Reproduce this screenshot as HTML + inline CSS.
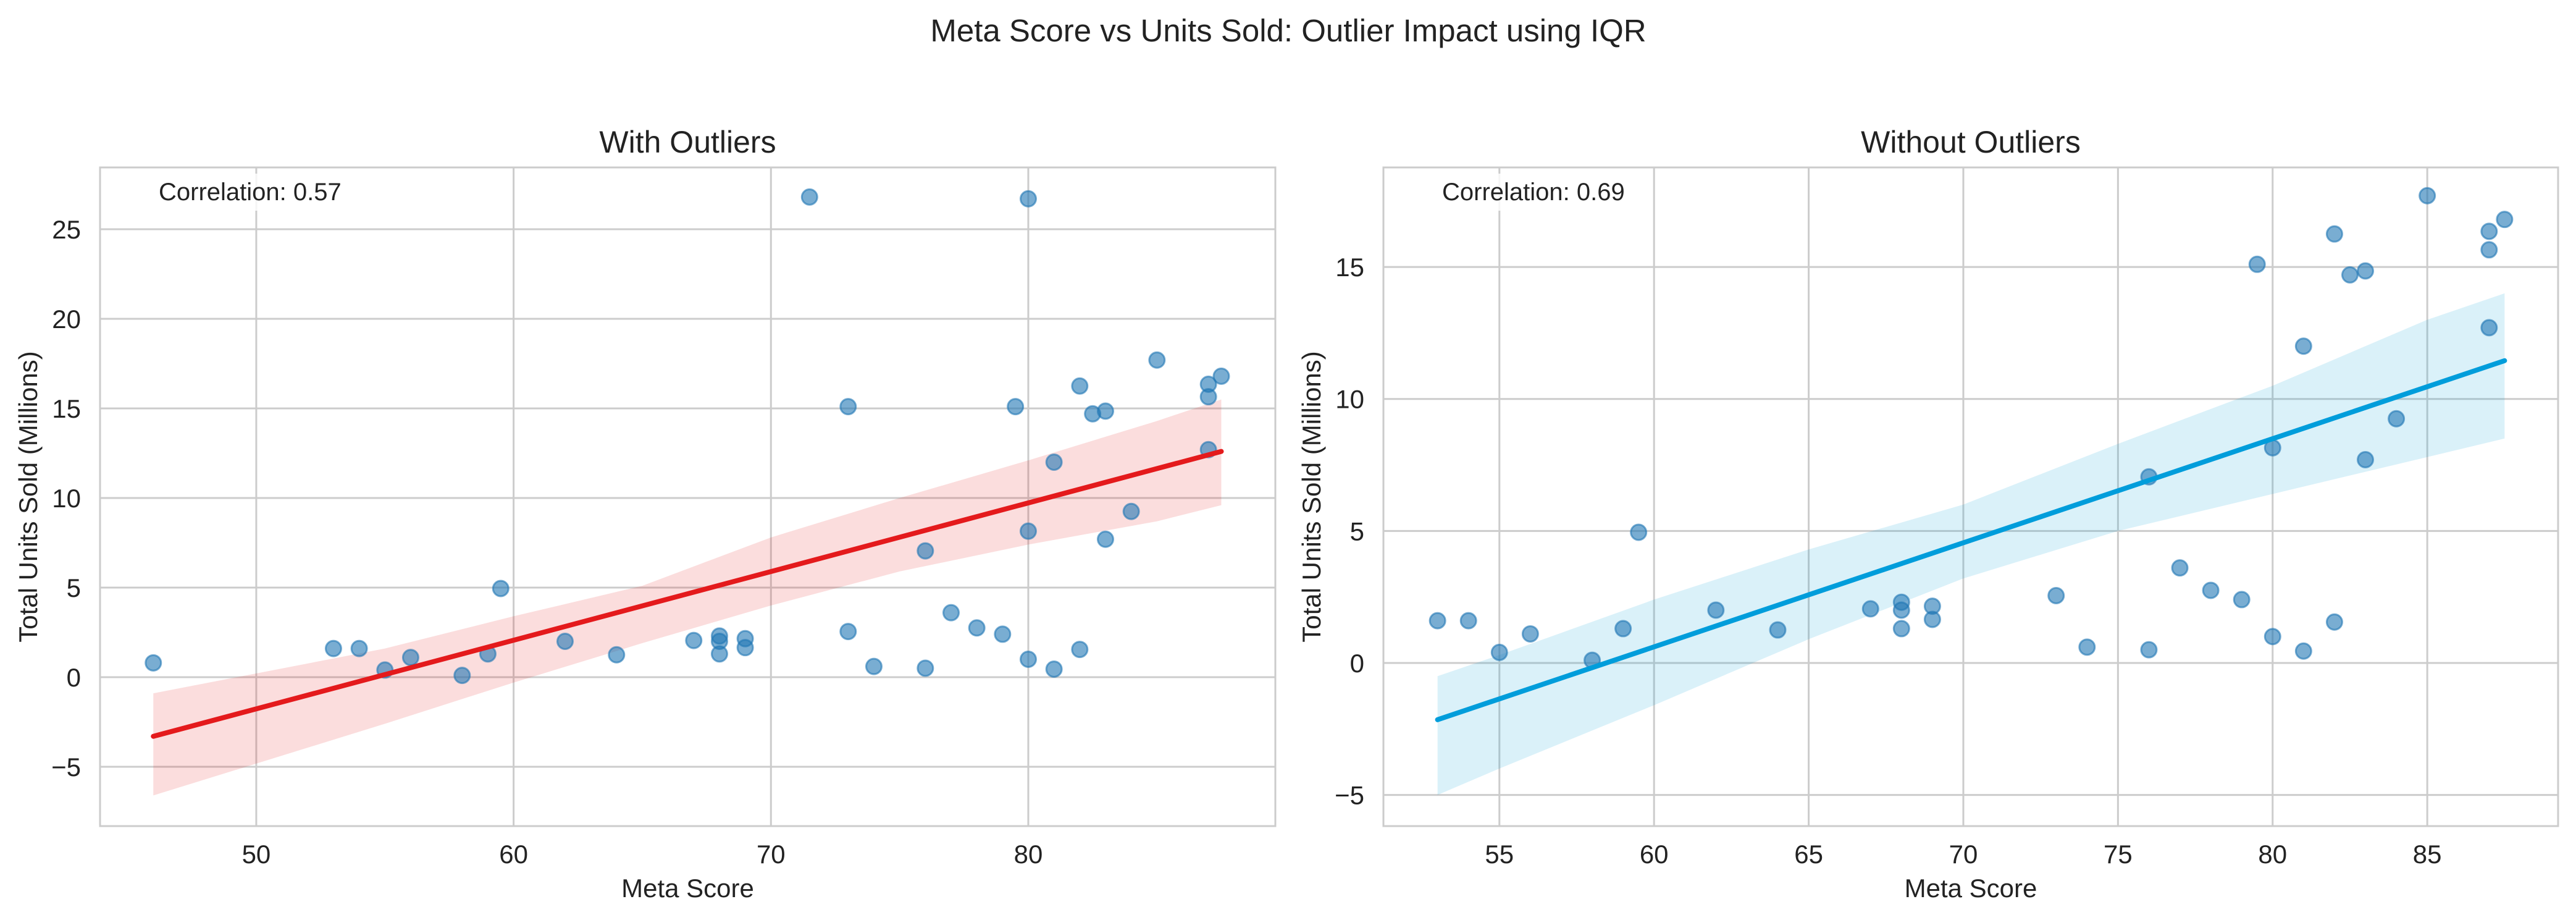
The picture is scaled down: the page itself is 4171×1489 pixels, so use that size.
<!DOCTYPE html>
<html><head><meta charset="utf-8"><style>
body{margin:0;background:#fff}
svg{display:block;font-family:"Liberation Sans",Arial,sans-serif}
</style></head><body>
<svg id="fig" width="4171" height="1489" viewBox="0 0 4171 1489">
<rect width="4171" height="1489" fill="#fff"/>
<text x="2086" y="67" font-size="51" text-anchor="middle" fill="#222">Meta Score vs Units Sold: Outlier Impact using IQR</text>
</svg>
<script>
// Data (left: with outliers)
const allScores = [46,53,54,55,56,58,59,59.5,62,64,67,68,68,68,69,69,71.5,73,73,74,76,76,77,78,79,79.5,80,80,80,81,81,82,82,82.5,83,83,84,85,87,87,87,87.5];
const allUnits  = [0.8,1.6,1.6,0.4,1.1,0.1,1.3,4.95,2.0,1.25,2.05,2.3,2.0,1.3,2.15,1.65,26.8,15.1,2.55,0.6,7.05,0.5,3.6,2.75,2.4,15.1,26.7,8.15,1.0,12.0,0.45,16.25,1.55,14.7,14.85,7.7,9.25,17.7,16.35,15.65,12.7,16.8];
// Data (right: without outliers)
const cleanScores = [53,54,55,56,58,59,59.5,62,64,67,68,68,68,69,69,73,74,76,76,77,78,79,79.5,80,80,81,81,82,82,82.5,83,83,84,85,87,87,87,87.5];
const cleanUnits  = [1.6,1.6,0.4,1.1,0.1,1.3,4.95,2.0,1.25,2.05,2.3,2.0,1.3,2.15,1.65,2.55,0.6,7.05,0.5,3.6,2.75,2.4,15.1,8.15,1.0,12.0,0.45,16.25,1.55,14.7,14.85,7.7,9.25,17.7,16.35,15.65,12.7,16.8];
// Regression lines & CI
const leftFit = [[46,-3.3],[87.5,12.6]];
const leftCiX = [46,55,60,65,70,75,80,85,87.5];
const leftCiLo = [-6.6,-2.6,-0.3,1.9,4.0,5.9,7.4,8.7,9.6];
const leftCiHi = [-0.9,1.6,3.4,5.1,7.8,10.0,12.1,14.3,15.5];
const rightFit = [[53,-2.15],[87.5,11.45]];
const rightCiX = [53,55,60,65,70,75,80,85,87.5];
const rightCiLo = [-5.0,-4.0,-1.6,0.9,3.2,5.0,6.4,7.8,8.5];
const rightCiHi = [-0.5,0.3,2.4,4.3,6.0,8.3,10.5,13.0,14.0];
const leftXTicks = [50,60,70,80];
const leftYTicks = [-5,0,5,10,15,20,25];
const rightXTicks = [55,60,65,70,75,80,85];
const rightYTicks = [-5,0,5,10,15];

const NS='http://www.w3.org/2000/svg';
const fig=document.getElementById('fig');
function mk(tag,attrs,parent){const e=document.createElementNS(NS,tag);for(const k in attrs)e.setAttribute(k,attrs[k]);(parent||fig).appendChild(e);return e;}

function panel(o){
  const g=mk('g',{});
  
  
  const sx=v=>o.x0+(v-o.xmin)/(o.xmax-o.xmin)*(o.x1-o.x0);
  const sy=v=>o.y1-(v-o.ymin)/(o.ymax-o.ymin)*(o.y1-o.y0);
  o.xt.forEach(t=>{
    const l=mk('line',{x1:sx(t),x2:sx(t),y1:o.y0,y2:o.y1,stroke:'#cccccc','stroke-width':3},g);
    
    
    const tx=mk('text',{x:sx(t),y:1397,'font-size':42,'text-anchor':'middle',fill:'#222'},g);
    
    
    tx.textContent=t;
  });
  o.yt.forEach(t=>{
    const l=mk('line',{x1:o.x0,x2:o.x1,y1:sy(t),y2:sy(t),stroke:'#cccccc','stroke-width':3},g);
    
    
    const tx=mk('text',{x:o.x0-31,y:sy(t)+15,'font-size':42,'text-anchor':'end',fill:'#222'},g);
    
    
    tx.textContent=(t<0?'\u2212'+(-t):t);
  });
  const fr=mk('rect',{x:o.x0,y:o.y0,width:o.x1-o.x0,height:o.y1-o.y0,fill:'none',stroke:'#cccccc','stroke-width':3},g);
  
  
  let d='';
  o.cx.forEach((x,i)=>{d+=(i?'L':'M')+sx(x)+','+sy(o.chi[i]);});
  for(let i=o.cx.length-1;i>=0;i--)d+='L'+sx(o.cx[i])+','+sy(o.clo[i]);
  const band=mk('path',{d:d+'Z',fill:o.band,'fill-opacity':0.15},g);
  
  
  o.px.forEach((x,i)=>{
    const c=mk('circle',{cx:sx(x),cy:sy(o.py[i]),r:12.5,fill:'#1f77b4','fill-opacity':0.6,stroke:'#1f77b4','stroke-opacity':0.6,'stroke-width':3},g);
    
    
  });
  const ln=mk('line',{x1:sx(o.fit[0][0]),y1:sy(o.fit[0][1]),x2:sx(o.fit[1][0]),y2:sy(o.fit[1][1]),stroke:o.line,'stroke-width':8,'stroke-linecap':'round'},g);
  
  
  const ct=mk('rect',{x:o.x0+85,y:o.y0+10,width:320,height:60,fill:'#fff','fill-opacity':0.8},g);
  
  
  const cr=mk('text',{x:o.x0+95,y:324,'font-size':40,fill:'#222'},g);
  
  
  cr.textContent=o.corr;
  const ti=mk('text',{x:(o.x0+o.x1)/2,y:247,'font-size':50,'text-anchor':'middle',fill:'#222'},g);
  
  
  ti.textContent=o.title;
  const xl=mk('text',{x:(o.x0+o.x1)/2,y:1452,'font-size':42,'text-anchor':'middle',fill:'#222'},g);
  
  
  xl.textContent='Meta Score';
  const yl=mk('text',{x:0,y:0,'font-size':42,'text-anchor':'middle',fill:'#222',transform:'translate('+(o.x0-102)+','+((o.y0+o.y1)/2)+') rotate(-90)'},g);
  
  
  yl.textContent='Total Units Sold (Millions)';
}
panel({name:'with-outliers-panel',x0:162,x1:2065,y0:271,y1:1337,xmin:43.93,xmax:89.6,ymin:-8.31,ymax:28.45,
  xt:leftXTicks,yt:leftYTicks,px:allScores,py:allUnits,fit:leftFit,cx:leftCiX,clo:leftCiLo,chi:leftCiHi,
  band:'#e41a1c',line:'#e41a1c',corr:'Correlation: 0.57',title:'With Outliers'});
panel({name:'without-outliers-panel',x0:2240,x1:4142,y0:271,y1:1337,xmin:51.25,xmax:89.23,ymin:-6.18,ymax:18.77,
  xt:rightXTicks,yt:rightYTicks,px:cleanScores,py:cleanUnits,fit:rightFit,cx:rightCiX,clo:rightCiLo,chi:rightCiHi,
  band:'#0a9ed9',line:'#009ddb',corr:'Correlation: 0.69',title:'Without Outliers'});
</script>
</body></html>
